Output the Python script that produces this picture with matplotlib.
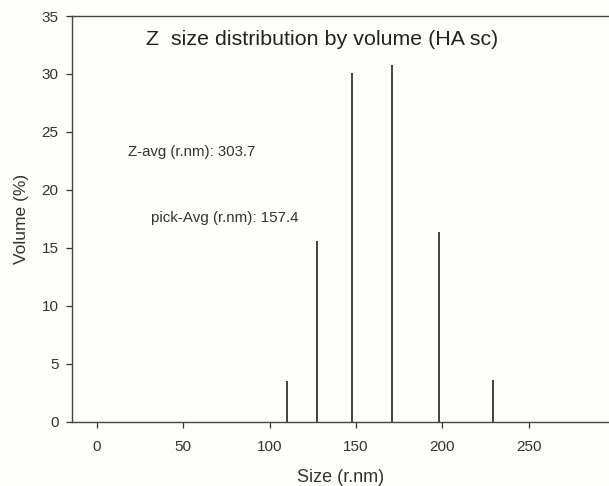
import matplotlib.pyplot as plt

# peak positions (r.nm) and volume (%)
sizes = [110.3, 127.6, 147.6, 171.1, 198.1, 229.3]
volumes = [3.5, 15.6, 30.1, 30.8, 16.4, 3.6]

x_ticks = [0, 50, 100, 150, 200, 250]
y_ticks = [0, 5, 10, 15, 20, 25, 30, 35]

title = "Z  size distribution by volume (HA sc)"
notes = ["Z-avg (r.nm): 303.7", "pick-Avg (r.nm): 157.4"]


def main():
    plt.rcParams["font.family"] = ["Liberation Sans", "DejaVu Sans"]
    bg = "#fdfdfa"
    fig = plt.figure(figsize=(6.09, 4.86), dpi=100, facecolor=bg)
    ax = fig.add_axes([72.3 / 609, 1 - 421.7 / 486, 1 - 72.3 / 609, (421.7 - 16) / 486])
    ax.set_facecolor(bg)

    ax.vlines(sizes, 0, volumes, colors="#222222", linewidth=1.2)

    ax.set_xlim(-14.3, 296.6)
    ax.set_ylim(0, 35)
    ax.set_xticks(x_ticks)
    ax.set_yticks(y_ticks)
    ax.tick_params(direction="out", length=4, width=0.9, colors="#333333",
                   labelsize=11, labelcolor="#333333", pad=6)
    ax.tick_params(axis="x", pad=9)
    ax.spines["right"].set_visible(False)
    for s in ("left", "top", "bottom"):
        ax.spines[s].set_color("#444444")
        ax.spines[s].set_linewidth(1.0)

    ax.set_xlabel("Size (r.nm)", fontsize=13, color="#333333", labelpad=11)
    ax.set_ylabel("Volume (%)", fontsize=12.5, color="#333333", labelpad=9)

    ax.text(28.5, 32.5, title, fontsize=15.4, color="#222222", va="baseline")
    ax.text(18, 22.9, notes[0], fontsize=10.8, color="#333333", va="baseline")
    ax.text(31, 17.2, notes[1], fontsize=10.9, color="#333333", va="baseline")

    fig.savefig("out.png", dpi=100, facecolor=bg)
    plt.close(fig)


if __name__ == "__main__":
    main()
